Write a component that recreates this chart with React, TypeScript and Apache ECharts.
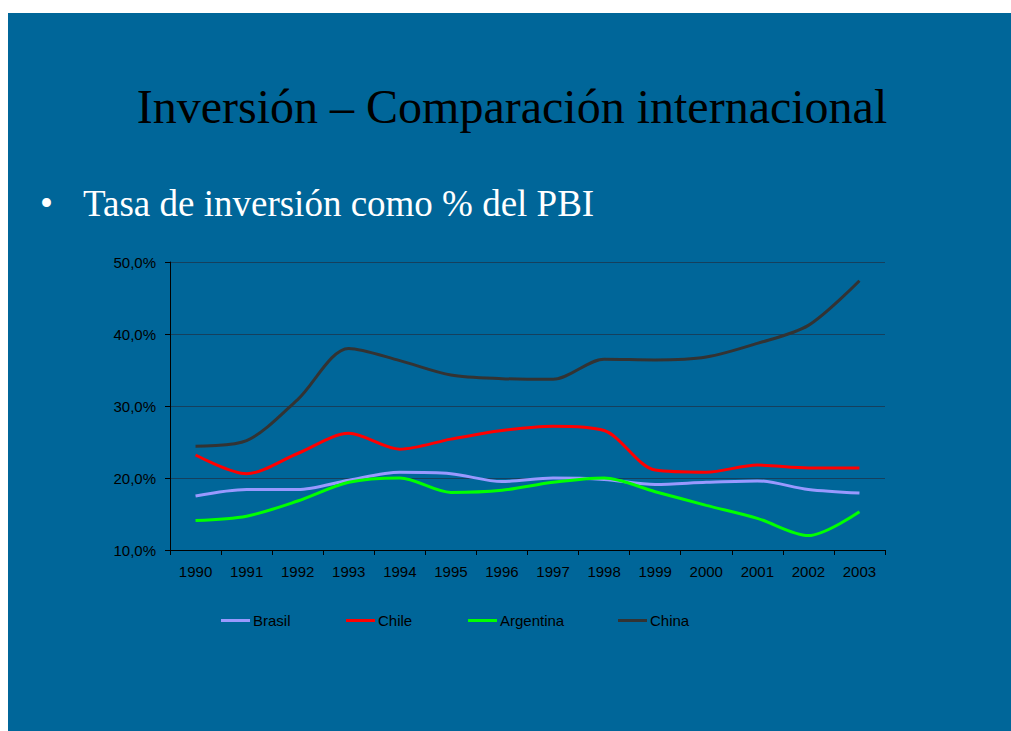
import { useEffect, useRef } from "react";
import * as echarts from "echarts";

const years = ["1990", "1991", "1992", "1993", "1994", "1995", "1996", "1997", "1998", "1999", "2000", "2001", "2002", "2003"];
const brasil = [17.5, 18.4, 18.4, 19.7, 20.8, 20.6, 19.5, 20.0, 19.8, 19.1, 19.4, 19.6, 18.4, 17.9];
const chile = [23.2, 20.6, 23.4, 26.2, 24.0, 25.4, 26.6, 27.2, 26.6, 21.1, 20.8, 21.8, 21.4, 21.4];
const argentina = [14.1, 14.7, 16.8, 19.4, 20.0, 18.0, 18.3, 19.4, 20.0, 18.1, 16.2, 14.4, 12.0, 15.3];
const china = [24.4, 25.2, 30.9, 38.0, 36.3, 34.3, 33.8, 33.7, 36.5, 36.4, 36.8, 38.7, 41.2, 47.4];

const seriesNames = ["Brasil", "Chile", "Argentina", "China"];
const seriesColors = ["#9999FF", "#FF0000", "#00FF00", "#333333"];
const seriesData = [brasil, chile, argentina, china];
const legendLefts = [221, 346, 468, 618];

const title = "Inversión – Comparación internacional";
const subtitle = "Tasa de inversión como % del PBI";

export default function App() {
  const ref = useRef<HTMLDivElement>(null);
  useEffect(() => {
    if (!ref.current) return;
    const chart = echarts.init(ref.current, undefined, { renderer: "svg" });
    const sans = "Arial, 'Liberation Sans', sans-serif";
    const serif = "'Times New Roman', 'Liberation Serif', serif";
    chart.setOption({
      animation: false,
      backgroundColor: "#ffffff",
      graphic: [
        {
          type: "rect",
          z: -10,
          shape: { x: 8, y: 13, width: 1003, height: 718 },
          style: { fill: "#006699" },
        },
        {
          type: "text",
          x: 512,
          y: 106,
          style: {
            text: title,
            font: `48px ${serif}`,
            fill: "#000000",
            textAlign: "center",
            textVerticalAlign: "middle",
          },
        },
        {
          type: "text",
          x: 40,
          y: 203,
          style: {
            text: "•",
            font: `37px ${serif}`,
            fill: "#ffffff",
            textAlign: "left",
            textVerticalAlign: "middle",
          },
        },
        {
          type: "text",
          x: 83,
          y: 203,
          style: {
            text: subtitle,
            font: `37px ${serif}`,
            fill: "#ffffff",
            textAlign: "left",
            textVerticalAlign: "middle",
          },
        },
      ],
      grid: { left: 170, right: 126, top: 262, bottom: 181, containLabel: false },
      legend: seriesNames.map((n, i) => ({
        data: [n],
        left: legendLefts[i],
        top: 613,
        padding: 0,
        icon: "rect",
        itemWidth: 29,
        itemHeight: 3,
        textStyle: { color: "#000000", fontSize: 15, fontFamily: sans, padding: [0, 0, 0, -2] },
      })),
      xAxis: {
        type: "category",
        data: years,
        boundaryGap: true,
        axisLine: { lineStyle: { color: "#000000", width: 1 } },
        axisTick: { show: true, length: 5, lineStyle: { color: "#000000" } },
        axisLabel: { color: "#000000", fontSize: 15, fontFamily: sans, margin: 14 },
        splitLine: { show: false },
      },
      yAxis: {
        type: "value",
        min: 10,
        max: 50,
        interval: 10,
        axisLine: { show: true, lineStyle: { color: "#000000", width: 1 } },
        axisTick: { show: true, length: 5, lineStyle: { color: "#000000" } },
        axisLabel: {
          color: "#000000",
          fontSize: 15,
          fontFamily: sans,
          margin: 14,
          formatter: (v: number) => v.toFixed(1).replace(".", ",") + "%",
        },
        splitLine: { show: true, lineStyle: { color: "#15405e", width: 1 } },
      },
      series: seriesNames.map((n, i) => ({
        name: n,
        type: "line",
        data: seriesData[i],
        smooth: 0.3,
        symbol: "none",
        lineStyle: { color: seriesColors[i], width: 3 },
        itemStyle: { color: seriesColors[i] },
        z: 3,
      })),
    });
    return () => chart.dispose();
  }, []);
  return (
    <div
      ref={ref}
      style={{ position: "absolute", left: 0, top: 0, width: 1011, height: 731 }}
    />
  );
}
